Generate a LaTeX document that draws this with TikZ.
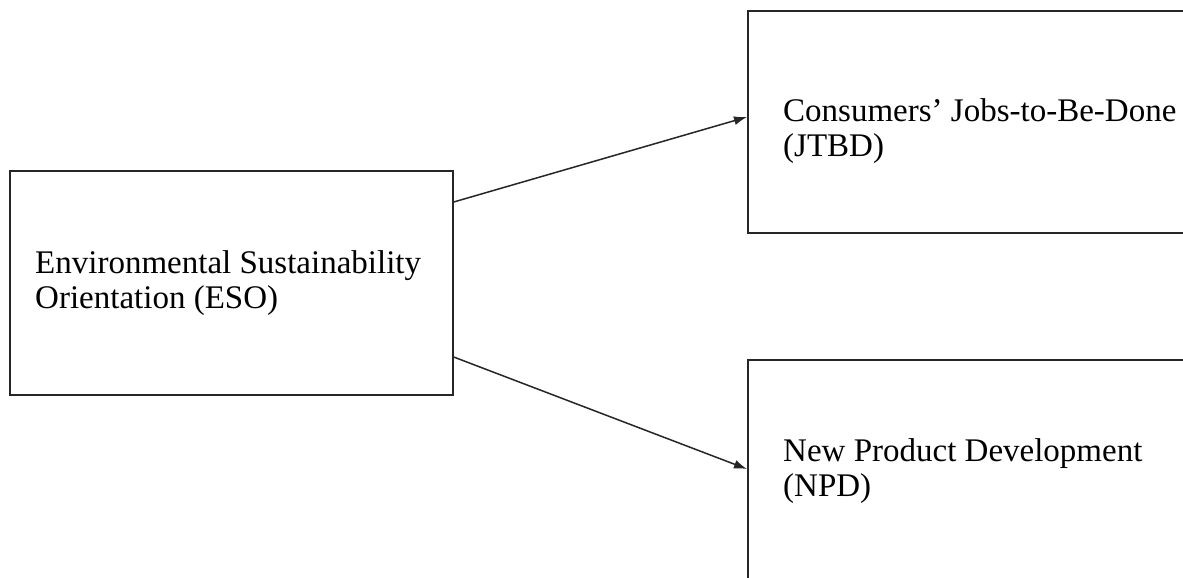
\documentclass[tikz,border=0pt]{standalone}
\usepackage{fontspec}
\setmainfont{Liberation Serif}
\usetikzlibrary{arrows.meta,calc}
\begin{document}
\begin{tikzpicture}[x=1pt,y=-1pt,
  box/.style={draw=black!85, line width=1.7pt, rectangle, inner sep=0pt, anchor=north west},
  lbl/.style={inner sep=0pt, anchor=base west, align=left, font=\fontsize{33}{35}\selectfont},
  arr/.style={draw=black!85, line width=1.5pt, -{Latex[length=13pt,width=9pt]}}]
\useasboundingbox (0,0) rectangle (1183,578);
\clip (0,0) rectangle (1183,578);
\fill[white] (0,0) rectangle (1183,578);
\node[box, minimum width=443pt, minimum height=224pt] (eso) at (9,170) {};
\node[box, minimum width=480pt, minimum height=222pt] (jtbd) at (747,10) {};
\node[box, minimum width=480pt, minimum height=260pt] (npd) at (747,359) {};
\node[lbl] (esot) at (35,308) {Environmental Sustainability\\Orientation (ESO)};
\node[lbl] (jtbdt) at (783,156) {Consumers’ Jobs-to-Be-Done\\(JTBD)};
\node[lbl] (npdt) at (783,496) {New Product Development\\(NPD)};
\draw[arr] ($(eso.north east)+(0,32)$) -- ($(jtbd.north west)+(0,107)$);
\draw[arr] ($(eso.north east)+(0,187)$) -- ($(npd.north west)+(0,110)$);
\end{tikzpicture}
\end{document}
